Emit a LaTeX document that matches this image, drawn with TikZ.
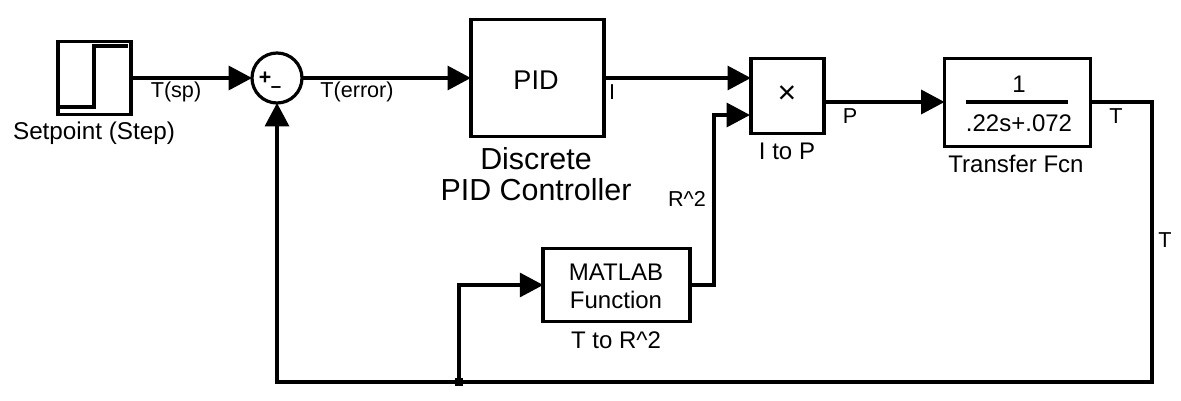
\documentclass[tikz,border=0pt]{standalone}
\usepackage{fontspec}
\setmainfont{Liberation Sans}
\usetikzlibrary{arrows.meta}
\tikzset{
  blockbox/.style={draw=black,line width=2.6pt,fill=white,rectangle,inner sep=0pt,outer sep=0pt},
  sumcircle/.style={draw=black,line width=2.4pt,fill=white,circle,inner sep=0pt,outer sep=0pt,minimum size=37.5pt},
  wire/.style={draw=black,line width=2.4pt,line join=miter},
  sig/.style={wire,-{Triangle[length=17.5pt,width=18pt]},shorten >=0pt},
  lbl/.style={inner sep=0pt,font=\fontsize{16.2pt}{18pt}\selectfont,text=black},
  small/.style={inner sep=0pt,font=\fontsize{18pt}{20pt}\selectfont,text=black},
  big/.style={inner sep=0pt,font=\fontsize{22.8pt}{23pt}\selectfont,text=black,align=center},
}
\begin{document}
\begin{tikzpicture}[x=0.75pt,y=-0.75pt]
\useasboundingbox (0,0) rectangle (1181,400);
\fill[white] (0,0) rectangle (1181,400);
% blocks
\node[blockbox,minimum width=55pt,minimum height=55pt] (step) at (94.5,78) {};
\node[sumcircle] (sum) at (277,78) {};
\node[blockbox,minimum width=100pt,minimum height=88pt] (pid) at (537.5,78) {};
\node[blockbox,minimum width=55pt,minimum height=56.5pt] (prod) at (787.5,96) {};
\node[blockbox,minimum width=109.5pt,minimum height=66pt] (tf) at (1017.5,102.5) {};
\node[blockbox,minimum width=110pt,minimum height=55pt] (fn) at (616.5,285) {};
% block contents
\draw[line width=2.6pt,line join=miter] (59,107) -- (94,107) -- (94,46) -- (128,46);
\node[inner sep=0pt,font=\bfseries\fontsize{16pt}{16pt}\selectfont] (plus) at (265,78) {+};
\node[inner sep=0pt,font=\bfseries\fontsize{14pt}{15pt}\selectfont] (minus) at (276,90) {–};
\node[inner sep=0pt,font=\fontsize{20.3pt}{22pt}\selectfont] (pidt) at (536,80) {PID};
\node[inner sep=0pt,font=\fontsize{24pt}{24pt}\selectfont] (times) at (787,95) {×};
\node[small] (num) at (1019,84) {1};
\draw[line width=2.4pt] (966,102) -- (1068,102);
\node[small] (den) at (1019,123) {.22s+.072};
\node[small,align=center,font=\fontsize{18pt}{21pt}\selectfont] (fnt) at (616,286) {MATLAB\\Function};
% block names
\node[small,font=\fontsize{18.2pt}{20pt}\selectfont] (stepn) at (94,133) {Setpoint (Step)};
\node[big] (pidn) at (536,174) {Discrete\\PID Controller};
\node[small] (prodn) at (787,151) {I to P};
\node[small] (tfn) at (1016,164) {Transfer Fcn};
\node[small] (fnn) at (616,340) {T to R\^{}2};
% signal labels
\node[lbl] (lsp) at (176,92) {T(sp)};
\node[lbl] (lerr) at (357,92) {T(error)};
\node[lbl] (li) at (612,92) {I};
\node[lbl] (lr) at (687,199) {R\^{}2};
\node[lbl] (lp) at (850,116) {P};
\node[lbl] (lt1) at (1116,116) {T};
\node[lbl] (lt2) at (1165,240) {T};
% helper points
\coordinate (in1) at (prod.west |- pid.east);
\coordinate (in2) at (750,115);
\coordinate (pout) at (824,102);
\coordinate (c1) at (1152,102);
\coordinate (c2) at (1152,382);
\coordinate (c3) at (277,382);
\coordinate (jn) at (459,382);
\coordinate (b1) at (459,285);
\coordinate (c4) at (714,285);
\coordinate (c5) at (714,115);
% connectors
\draw[sig] (step) -- (sum);
\draw[sig] (sum) -- (pid);
\draw[sig] (pid) -- (in1);
\draw[sig] (fn.east) -- (c4) -- (c5) -- (in2);
\draw[sig] (pout) -- (tf.west |- pout);
\draw[sig] (tf.east |- c1) -- (c1) -- (c2) -- (c3) -- (sum.south);
\draw[sig] (jn) -- (b1) -- (fn.west);
\fill[black] (455,378) rectangle (463,386);
\end{tikzpicture}
\end{document}
